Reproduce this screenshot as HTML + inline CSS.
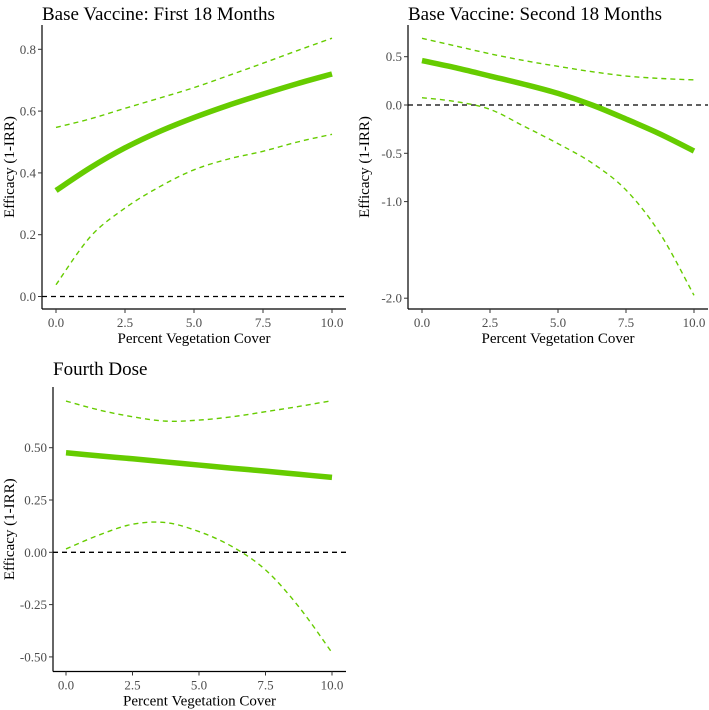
<!DOCTYPE html>
<html><head><meta charset="utf-8"><style>
html,body{margin:0;padding:0;background:#fff;}
svg{display:block;font-family:"Liberation Serif",serif;}
.tick{font-size:13px;fill:#4d4d4d;}
.axt{font-size:15px;fill:#000;}
.ttl{font-size:19px;fill:#000;}
</style></head><body>
<svg id="chart" width="709" height="710"></svg>
<script>
const xCats = [0, 1.25, 2.5, 3.75, 5, 6.25, 7.5, 8.75, 10];
const xTickLabels = ["0.0","2.5","5.0","7.5","10.0"];
const xTickVals = [0,2.5,5,7.5,10];
// Panel 1
const p1Mean  = [0.343, 0.417, 0.481, 0.534, 0.579, 0.619, 0.655, 0.689, 0.72];
const p1Upper = [0.547, 0.575, 0.609, 0.642, 0.676, 0.715, 0.755, 0.796, 0.836];
const p1Lower = [0.038, 0.194, 0.286, 0.355, 0.41, 0.445, 0.47, 0.5, 0.525];
const p1YTicks = [0, 0.2, 0.4, 0.6, 0.8];
const p1YLabels = ["0.0","0.2","0.4","0.6","0.8"];
// Panel 2
const p2Mean  = [0.46, 0.385, 0.30, 0.215, 0.12, 0.0, -0.145, -0.3, -0.476];
const p2Upper = [0.69, 0.61, 0.53, 0.46, 0.40, 0.345, 0.30, 0.275, 0.26];
const p2Lower = [0.076, 0.035, -0.045, -0.22, -0.40, -0.60, -0.88, -1.33, -1.97];
const p2YTicks = [0.5, 0, -0.5, -1.0, -2.0];
const p2YLabels = ["0.5","0.0","-0.5","-1.0","-2.0"];
// Panel 3
const p3Mean  = [0.476, 0.461, 0.447, 0.432, 0.417, 0.402, 0.388, 0.373, 0.358];
const p3Upper = [0.723, 0.68, 0.648, 0.627, 0.632, 0.648, 0.672, 0.697, 0.725];
const p3Lower = [0.016, 0.083, 0.134, 0.142, 0.099, 0.027, -0.084, -0.26, -0.48];
const p3YTicks = [0.5, 0.25, 0, -0.25, -0.5];
const p3YLabels = ["0.50","0.25","0.00","-0.25","-0.50"];

const NS = "http://www.w3.org/2000/svg";
const svg = document.getElementById('chart');
function mk(tag, attrs, parent){
  const e = document.createElementNS(NS, tag);
  for (const k in attrs) e.setAttribute(k, attrs[k]);
  (parent||svg).appendChild(e);
  return e;
}
function smooth(pts){
  let d = "M" + pts[0][0] + "," + pts[0][1];
  for (let i=0;i<pts.length-1;i++){
    const p0 = pts[i-1]||pts[i], p1=pts[i], p2=pts[i+1], p3=pts[i+2]||p2;
    const c1x=p1[0]+(p2[0]-p0[0])/6, c1y=p1[1]+(p2[1]-p0[1])/6;
    const c2x=p2[0]-(p3[0]-p1[0])/6, c2y=p2[1]-(p3[1]-p1[1])/6;
    d += " C"+c1x+","+c1y+" "+c2x+","+c2y+" "+p2[0]+","+p2[1];
  }
  return d;
}
function panel(cfg){
  const g = mk('g', {});
  
  
  const xs = v => cfg.x0 + (v - 0) / 10 * (cfg.x1 - cfg.x0);
  const ys = v => cfg.yA + (v - cfg.vA) / (cfg.vB - cfg.vA) * (cfg.yB - cfg.yA);
  const t = mk('text', {x: cfg.axX, y: cfg.titleY, class: 'ttl'}, g);
  t.textContent = cfg.title;
  
  
  const ya = mk('line', {x1: cfg.axX, y1: cfg.axTop, x2: cfg.axX, y2: cfg.axY, stroke: '#000', 'stroke-width': 1.2}, g);
  
  
  const xa = mk('line', {x1: cfg.axX, y1: cfg.axY, x2: cfg.axRight, y2: cfg.axY, stroke: '#000', 'stroke-width': 1.2}, g);
  
  
  cfg.yt.forEach((v,i)=>{
    mk('line', {x1: cfg.axX-4, y1: ys(v), x2: cfg.axX, y2: ys(v), stroke: '#333', 'stroke-width': 1}, g);
    const l = mk('text', {x: cfg.axX-6, y: ys(v)+4.5, class: 'tick', 'text-anchor': 'end'}, g);
    l.textContent = cfg.yl[i];
    
    
  });
  xTickVals.forEach((v,i)=>{
    mk('line', {x1: xs(v), y1: cfg.axY, x2: xs(v), y2: cfg.axY+4, stroke: '#333', 'stroke-width': 1}, g);
    const l = mk('text', {x: xs(v), y: cfg.axY+18, class: 'tick', 'text-anchor': 'middle'}, g);
    l.textContent = xTickLabels[i];
    
    
  });
  const xt = mk('text', {x: (cfg.axX+cfg.axRight)/2, y: cfg.axY+34, class: 'axt', 'text-anchor': 'middle'}, g);
  xt.textContent = 'Percent Vegetation Cover';
  
  
  const yc = (cfg.axTop+cfg.axY)/2;
  const yt = mk('text', {x: cfg.yTitleX, y: yc, class: 'axt', 'text-anchor': 'middle', transform: 'rotate(-90 '+cfg.yTitleX+' '+yc+')'}, g);
  yt.textContent = 'Efficacy (1-IRR)';
  
  
  const z = mk('line', {x1: cfg.axX, y1: ys(0), x2: cfg.axRight, y2: ys(0), stroke: '#000', 'stroke-width': 1.3, 'stroke-dasharray': '5,4'}, g);
  
  
  const pts = arr => xCats.map((x,i)=>[xs(x), ys(arr[i])]);
  const up = mk('path', {d: smooth(pts(cfg.upper)), fill: 'none', stroke: '#66cc00', 'stroke-width': 1.4, 'stroke-dasharray': '5,4'}, g);
  
  
  const lo = mk('path', {d: smooth(pts(cfg.lower)), fill: 'none', stroke: '#66cc00', 'stroke-width': 1.4, 'stroke-dasharray': '5,4'}, g);
  
  
  const m = mk('path', {d: smooth(pts(cfg.mean)), fill: 'none', stroke: '#66cc00', 'stroke-width': 5.5}, g);
  
  
}
panel({name:'panel-first-18-months', title:'Base Vaccine: First 18 Months', titleY:20,
  axX:42, axTop:25, axY:309, axRight:346, x0:56, x1:332,
  vA:0, yA:296.5, vB:0.8, yB:49.3, yt:p1YTicks, yl:p1YLabels, yTitleX:14,
  mean:p1Mean, upper:p1Upper, lower:p1Lower});
panel({name:'panel-second-18-months', title:'Base Vaccine: Second 18 Months', titleY:20,
  axX:408, axTop:25, axY:309, axRight:708, x0:422, x1:694,
  vA:0, yA:105, vB:0.5, yB:56.7, yt:p2YTicks, yl:p2YLabels, yTitleX:369,
  mean:p2Mean, upper:p2Upper, lower:p2Lower});
panel({name:'panel-fourth-dose', title:'Fourth Dose', titleY:375,
  axX:53, axTop:387, axY:671.5, axRight:346, x0:66, x1:332,
  vA:0, yA:552.3, vB:0.5, yB:447.7, yt:p3YTicks, yl:p3YLabels, yTitleX:14,
  mean:p3Mean, upper:p3Upper, lower:p3Lower});
</script>
</body></html>
